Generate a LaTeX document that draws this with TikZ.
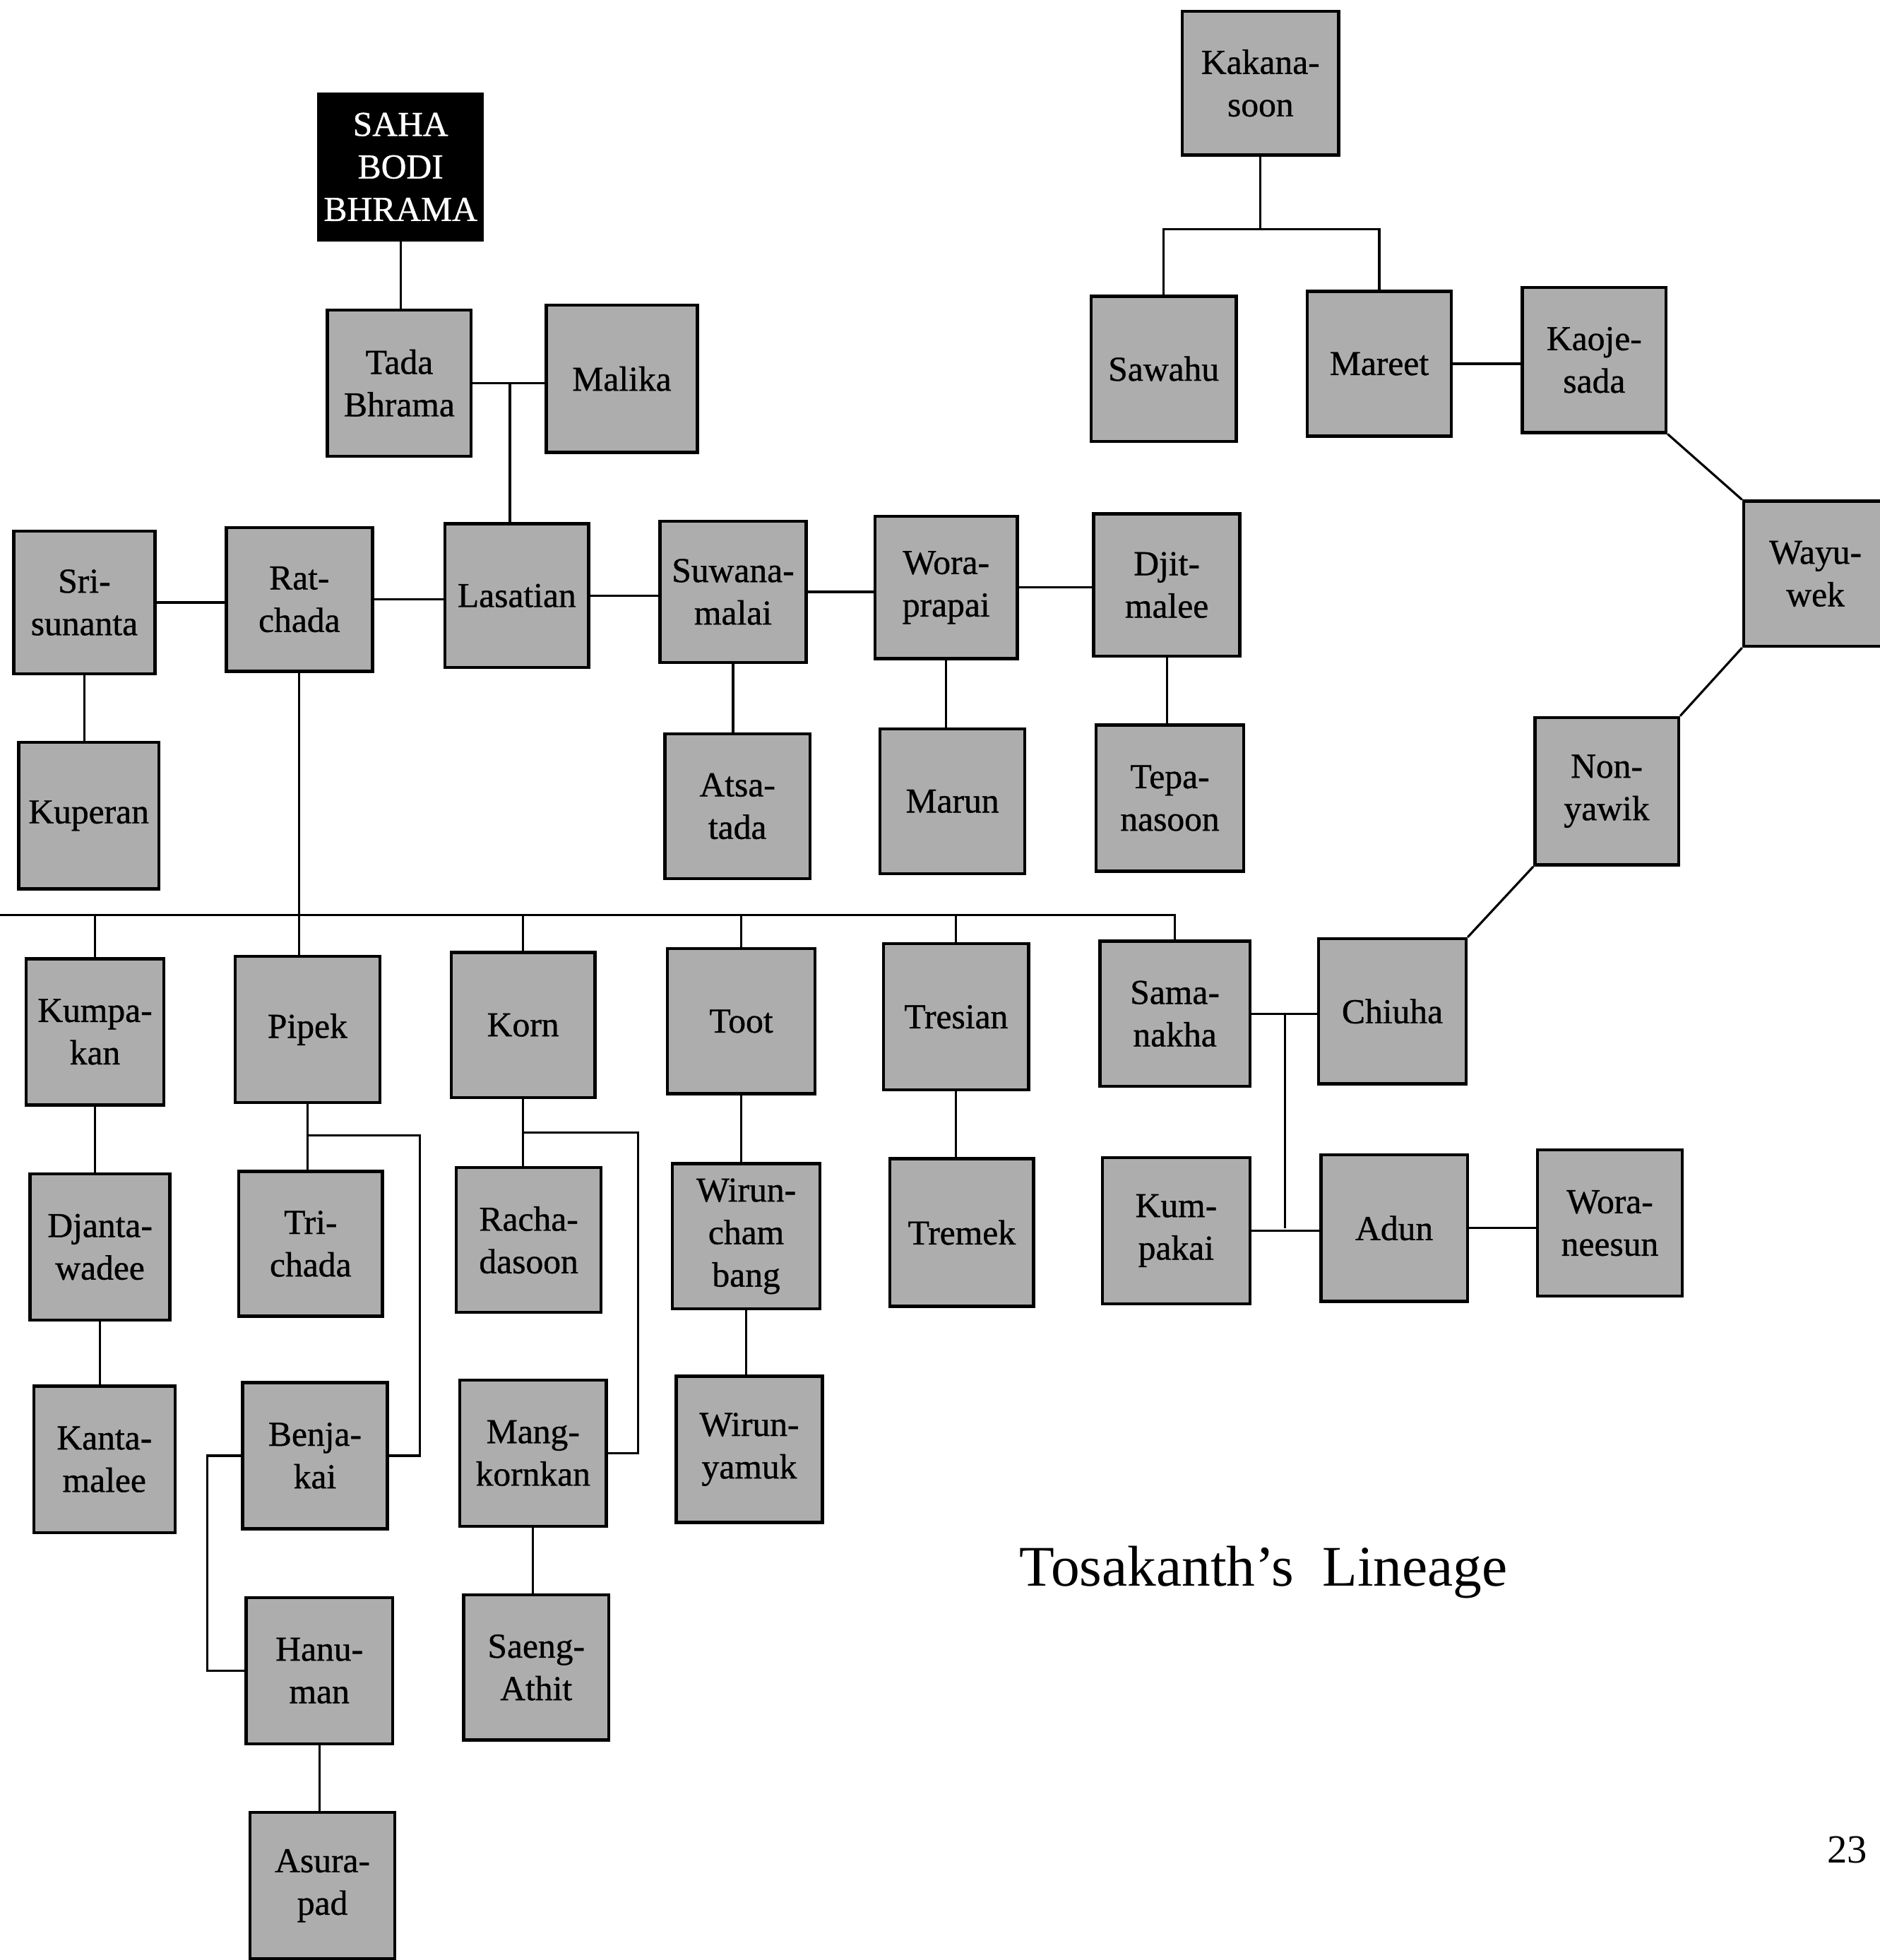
\documentclass[tikz,border=0pt]{standalone}
\usepackage{fontspec}
\setmainfont{Liberation Serif}
\newfontfamily\boxfont{Liberation Serif}[FakeBold=0.8]
\newcommand\fambox[7][pbox]{\node[#1, minimum width={(#4-#2)*0.5pt}, minimum height={(#5-#3)*0.5pt}] (#6) at ({(#2+#4)/2},{(#3+#5)/2}) {#7};}
\begin{document}
\begin{tikzpicture}[x=0.5pt,y=-0.5pt,
  pbox/.style={draw=black, line width=1.25pt, fill=black!32, inner sep=0pt, align=center, font=\boxfont\fontsize{14}{17}\selectfont},
  dbox/.style={pbox, fill=black, text=white},
  link/.style={line width=0.9pt, line join=miter}]
\useasboundingbox[fill=white] (0,0) rectangle (1504,1568);
% boxes
\fambox[dbox]{255}{75}{386}{192}{saha}{SAHA\\BODI\\BHRAMA}
\fambox{262}{248}{377}{365}{tada}{Tada\\Bhrama}
\fambox{437}{244}{558}{362}{malika}{Malika}
\fambox{946}{9}{1071}{124}{kakana}{Kakana-\\soon}
\fambox{873}{237}{989}{353}{sawahu}{Sawahu}
\fambox{1046}{233}{1161}{349}{mareet}{Mareet}
\fambox{1218}{230}{1333}{346}{kaoje}{Kaoje-\\sada}
\fambox{1395}{401}{1510}{517}{wayu}{Wayu-\\wek}
\fambox{1228}{574}{1343}{692}{nonyawik}{Non-\\yawik}
\fambox{11}{425}{124}{539}{sri}{Sri-\\sunanta}
\fambox{181}{422}{298}{537}{ratchada}{Rat-\\chada}
\fambox{356}{419}{471}{534}{lasatian}{Lasatian}
\fambox{528}{417}{645}{530}{suwana}{Suwana-\\malai}
\fambox{700}{413}{814}{527}{wora}{Wora-\\prapai}
\fambox{875}{411}{992}{525}{djit}{Djit-\\malee}
\fambox{15}{594}{127}{711}{kuperan}{Kuperan}
\fambox{532}{587}{648}{703}{atsa}{Atsa-\\tada}
\fambox{704}{583}{820}{699}{marun}{Marun}
\fambox{877}{580}{995}{697}{tepa}{Tepa-\\nasoon}
\fambox{21}{767}{131}{884}{kumpakan}{Kumpa-\\kan}
\fambox{188}{765}{304}{882}{pipek}{Pipek}
\fambox{361}{762}{476}{878}{korn}{Korn}
\fambox{534}{759}{652}{875}{toot}{Toot}
\fambox{707}{755}{823}{872}{tresian}{Tresian}
\fambox{880}{753}{1000}{869}{sama}{Sama-\\nakha}
\fambox{1055}{751}{1173}{867}{chiuha}{Chiuha}
\fambox{24}{939}{136}{1056}{djanta}{Djanta-\\wadee}
\fambox{191}{937}{306}{1053}{trichada}{Tri-\\chada}
\fambox{365}{934}{481}{1050}{racha}{Racha-\\dasoon}
\fambox{538}{931}{656}{1047}{wirunc}{Wirun-\\cham\\bang}
\fambox{712}{927}{827}{1045}{tremek}{Tremek}
\fambox{882}{926}{1000}{1043}{kumpakai}{Kum-\\pakai}
\fambox{1057}{924}{1174}{1041}{adun}{Adun}
\fambox{1230}{920}{1346}{1037}{woran}{Wora-\\neesun}
\fambox{27}{1109}{140}{1226}{kanta}{Kanta-\\malee}
\fambox{194}{1106}{310}{1223}{benja}{Benja-\\kai}
\fambox{368}{1104}{485}{1221}{mang}{Mang-\\kornkan}
\fambox{541}{1101}{658}{1218}{wirunm}{Wirun-\\yamuk}
\fambox{197}{1278}{314}{1395}{hanu}{Hanu-\\man}
\fambox{371}{1276}{487}{1392}{saeng}{Saeng-\\Athit}
\fambox{200}{1450}{316}{1567}{asura}{Asura-\\pad}
% texts
\node[font=\fontsize{23}{27}\selectfont, inner sep=0pt] (title) at (1011,1258) {Tosakanth’s\ \ Lineage};
\node[font=\fontsize{16}{19}\selectfont, inner sep=0pt] (page) at (1478,1480) {23};
% connectors
\begin{scope}[link]
\draw (saha.south) -- (saha.south |- tada.north);
\draw (tada.east) -- (tada.east -| malika.west);
\coordinate (tj) at (408,306);
\draw (tj) -- (tj |- lasatian.north);
\draw (kakana.south) -- ++(0,58) coordinate (kj);
\draw (sawahu.north) -- (sawahu.north |- kj) -- (mareet.north |- kj) -- (mareet.north);
\draw (mareet.east) -- (mareet.east -| kaoje.west);
\draw (kaoje.south east) -- (wayu.north west);
\draw (wayu.south west) -- (nonyawik.north east);
\draw (nonyawik.south west) -- (chiuha.north east);
\draw (sri.east) -- (sri.east -| ratchada.west);
\draw (ratchada.east) -- (ratchada.east -| lasatian.west);
\draw (lasatian.east) -- (lasatian.east -| suwana.west);
\draw (suwana.east) -- (suwana.east -| wora.west);
\draw (wora.east) -- (wora.east -| djit.west);
\draw (sri.south) -- (sri.south |- kuperan.north);
\draw (suwana.south) -- (suwana.south |- atsa.north);
\draw (wora.south) -- (wora.south |- marun.north);
\draw (djit.south) -- (djit.south |- tepa.north);
\draw (ratchada.south) -- (ratchada.south |- pipek.north);
\coordinate (gen) at (0,732);
\draw (gen) -- (sama.north |- gen) -- (sama.north);
\draw (kumpakan.north |- gen) -- (kumpakan.north);
\draw (korn.north |- gen) -- (korn.north);
\draw (toot.north |- gen) -- (toot.north);
\draw (tresian.north |- gen) -- (tresian.north);
\draw (kumpakan.south) -- (kumpakan.south |- djanta.north);
\draw (djanta.south) -- (djanta.south |- kanta.north);
\draw (pipek.south) -- (pipek.south |- trichada.north);
\draw (pipek.south) ++(0,25) -- ++(90,0) |- (benja.east);
\draw (korn.south) -- (korn.south |- racha.north);
\draw (korn.south) ++(0,27) -- ++(92,0) |- (mang.east);
\draw (toot.south) -- (toot.south |- wirunc.north);
\draw (wirunc.south) -- (wirunc.south |- wirunm.north);
\draw (tresian.south) -- (tresian.south |- tremek.north);
\draw (mang.south) -- (mang.south |- saeng.north);
\draw (benja.west) -- ++(-27,0) |- (hanu.west);
\draw (hanu.south) -- (hanu.south |- asura.north);
\draw (sama.east) -- (sama.east -| chiuha.west);
\coordinate (sj) at (1028,811);
\draw (sj) -- (sj |- adun.west);
\draw (kumpakai.east) -- (kumpakai.east -| adun.west);
\draw (adun.east) -- (adun.east -| woran.west);
\end{scope}
\end{tikzpicture}
\end{document}
